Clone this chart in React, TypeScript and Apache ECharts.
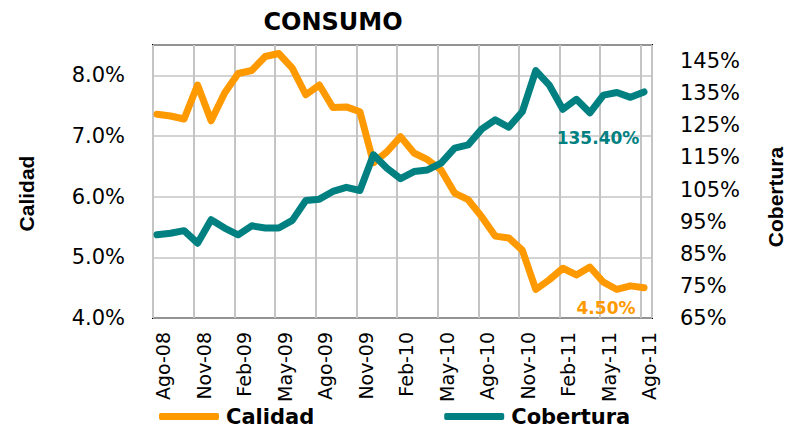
import React, { useEffect, useRef } from "react";
import * as echarts from "echarts";

const months = [
  "Ago-08", "Sep-08", "Oct-08", "Nov-08", "Dic-08", "Ene-09", "Feb-09", "Mar-09", "Abr-09", "May-09",
  "Jun-09", "Jul-09", "Ago-09", "Sep-09", "Oct-09", "Nov-09", "Dic-09", "Ene-10", "Feb-10", "Mar-10",
  "Abr-10", "May-10", "Jun-10", "Jul-10", "Ago-10", "Sep-10", "Oct-10", "Nov-10", "Dic-10", "Ene-11",
  "Feb-11", "Mar-11", "Abr-11", "May-11", "Jun-11", "Jul-11", "Ago-11",
];

const calidad = [
  7.36, 7.33, 7.28, 7.84, 7.25, 7.71, 8.03, 8.08, 8.31, 8.36,
  8.12, 7.68, 7.84, 7.47, 7.48, 7.40, 6.56, 6.74, 6.99, 6.72,
  6.61, 6.44, 6.06, 5.95, 5.67, 5.35, 5.32, 5.12, 4.47, 4.63,
  4.82, 4.71, 4.84, 4.59, 4.47, 4.53, 4.50,
];

const cobertura = [
  90.9, 91.4, 92.2, 88.3, 95.6, 93.0, 90.9, 93.7, 93.0, 93.0,
  95.4, 101.6, 102.0, 104.4, 105.7, 104.7, 115.8, 111.6, 108.4, 110.6,
  111.1, 113.2, 117.9, 118.9, 123.8, 126.7, 124.4, 129.2, 142.0, 137.5,
  130.0, 133.1, 128.9, 134.4, 135.2, 133.7, 135.4,
];

const seriesNames = ["Calidad", "Cobertura"];
const chartTitle = "CONSUMO";

const ORANGE = "#FF9900";
const TEAL = "#008080";
const FONT = "'DejaVu Sans', Verdana, sans-serif";
const FONT_AXIS_TITLE = "'Liberation Sans', Arial, sans-serif";

export default function App() {
  const ref = useRef<HTMLDivElement>(null);

  useEffect(() => {
    if (!ref.current) return;
    const chart = echarts.init(ref.current, null, { renderer: "svg" });
    const last = months.length - 1;

    chart.setOption({
      animation: false,
      backgroundColor: "#ffffff",
      grid: [
        { left: 157, right: 146, top: 45, bottom: 120, containLabel: false },
        {
          left: 153, right: 138, top: 45, bottom: 120, containLabel: false,
          show: true, borderColor: "#000000", borderWidth: 2, backgroundColor: "transparent",
        },
        { left: 163, right: 141, top: 45, bottom: 120, containLabel: false },
      ],
      graphic: [
        {
          type: "text", x: 333, y: 22,
          style: {
            text: chartTitle, fill: "#000", font: `bold 24px ${FONT}`,
            align: "center", verticalAlign: "middle",
          },
        },
        {
          type: "text", x: 26.5, y: 193.5, rotation: Math.PI / 2,
          style: {
            text: seriesNames[0], fill: "#000", font: `bold 21px ${FONT_AXIS_TITLE}`,
            align: "center", verticalAlign: "middle",
          },
        },
        {
          type: "text", x: 775, y: 197, rotation: Math.PI / 2,
          style: {
            text: seriesNames[1], fill: "#000", font: `bold 21px ${FONT_AXIS_TITLE}`,
            align: "center", verticalAlign: "middle",
          },
        },
      ],
      legend: {
        data: seriesNames,
        left: 159,
        top: 406,
        padding: 0,
        icon: "roundRect",
        itemWidth: 60,
        itemHeight: 7,
        itemGap: 130,
        textStyle: { fontFamily: FONT, fontWeight: "bold", fontSize: 21, color: "#000", padding: [0, 0, 0, 2] },
      },
      xAxis: [
        {
          type: "category",
          gridIndex: 0,
          data: months,
          boundaryGap: false,
          axisLine: { show: false },
          axisTick: { show: false },
          splitLine: { show: false },
          axisLabel: { show: false },
        },
        {
          type: "value",
          gridIndex: 1,
          min: 0,
          max: 36.82,
          interval: 3,
          axisLine: { show: false },
          axisTick: { show: false },
          axisLabel: { show: false },
          splitLine: { show: true, lineStyle: { color: "#c4c4c4", width: 2 } },
        },
        {
          type: "category",
          gridIndex: 2,
          data: months,
          boundaryGap: false,
          axisLine: { show: false },
          axisTick: { show: false },
          splitLine: { show: false },
          axisLabel: {
            interval: 2,
            rotate: 90,
            margin: 14,
            fontSize: 19,
            fontFamily: FONT,
            color: "#000",
          },
        },
      ],
      yAxis: [
        {
          type: "value",
          gridIndex: 0,
          position: "left",
          min: 4,
          max: 8.5,
          interval: 1,
          axisLine: { show: false },
          axisTick: { show: false },
          splitLine: { show: false },
          axisLabel: {
            margin: 32,
            fontSize: 21,
            fontFamily: FONT,
            color: "#000",
            showMaxLabel: false,
            padding: [5, 0, 0, 0],
            formatter: (v: number) => v.toFixed(1) + "%",
          },
        },
        {
          type: "value",
          gridIndex: 0,
          position: "right",
          min: 65,
          max: 150,
          interval: 10,
          axisLine: { show: false },
          axisTick: { show: false },
          splitLine: { show: false },
          axisLabel: {
            margin: 36,
            fontSize: 21,
            fontFamily: FONT,
            color: "#000",
            showMaxLabel: false,
            padding: [5, 0, 0, 0],
            formatter: (v: number) => Math.round(v) + "%",
          },
        },
        {
          type: "value",
          gridIndex: 1,
          min: 4,
          max: 8.5,
          interval: 1,
          axisLine: { show: false },
          axisTick: { show: false },
          axisLabel: { show: false },
          splitLine: { show: true, lineStyle: { color: "#c4c4c4", width: 1.5 } },
        },
        {
          type: "value",
          gridIndex: 2,
          min: 4,
          max: 8.5,
          show: false,
        },
      ],
      series: [
        {
          name: seriesNames[0],
          type: "line",
          xAxisIndex: 0,
          yAxisIndex: 0,
          data: calidad,
          showSymbol: false,
          symbol: "none",
          color: ORANGE,
          lineStyle: { color: ORANGE, width: 7, cap: "round", join: "round" },
          z: 3,
          markPoint: {
            symbol: "circle",
            symbolSize: 1,
            itemStyle: { color: "rgba(0,0,0,0)" },
            label: {
              show: true,
              position: "inside",
              offset: [-38, 20],
              color: ORANGE,
              fontFamily: FONT,
              fontWeight: "bold",
              fontSize: 17,
              formatter: () => calidad[last].toFixed(2) + "%",
            },
            data: [{ coord: [last, calidad[last]] }],
          },
        },
        {
          name: seriesNames[1],
          type: "line",
          xAxisIndex: 0,
          yAxisIndex: 1,
          data: cobertura,
          showSymbol: false,
          symbol: "none",
          color: TEAL,
          lineStyle: { color: TEAL, width: 7, cap: "round", join: "round" },
          z: 4,
          markPoint: {
            symbol: "circle",
            symbolSize: 1,
            itemStyle: { color: "rgba(0,0,0,0)" },
            label: {
              show: true,
              position: "inside",
              offset: [-46, 46],
              color: TEAL,
              fontFamily: FONT,
              fontWeight: "bold",
              fontSize: 17,
              formatter: () => cobertura[last].toFixed(2) + "%",
            },
            data: [{ coord: [last, cobertura[last]] }],
          },
        },
      ],
    });

    return () => chart.dispose();
  }, []);

  return (
    <div
      ref={ref}
      style={{ position: "fixed", left: 0, top: 0, width: 790, height: 438, background: "#fff" }}
    />
  );
}
